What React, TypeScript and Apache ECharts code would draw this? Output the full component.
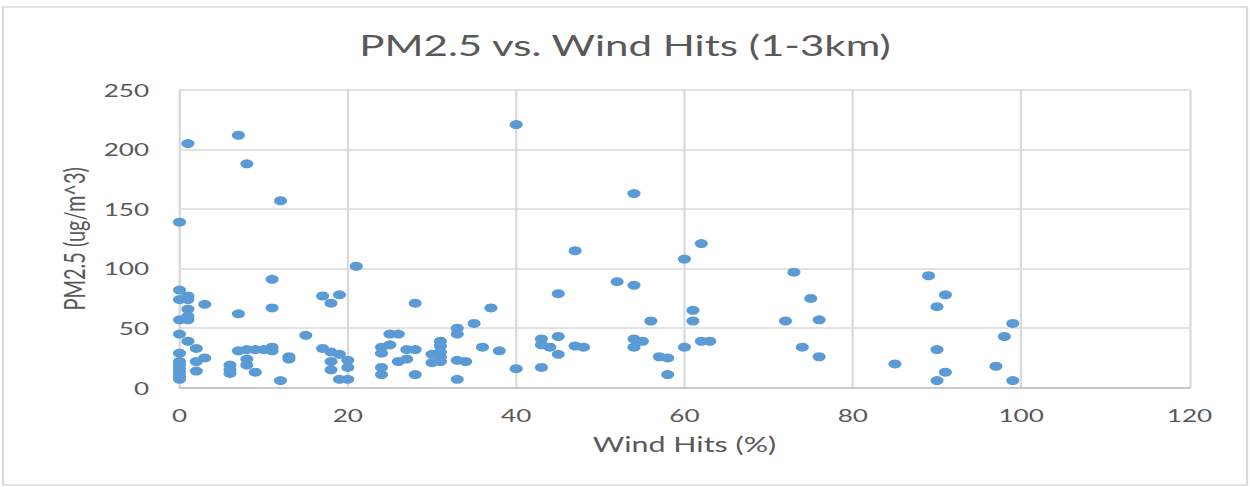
import React, { useEffect, useRef } from "react";
import * as echarts from "echarts";

const TITLE = "PM2.5 vs. Wind Hits (1-3km)";
const X_NAME = "Wind Hits (%)";
const Y_NAME = "PM2.5 (ug/m^3)";

// Wind hits (%) for each observation
const windHits = [
  1, 7, 8, 12, 0, 21, 11, 0, 0, 1, 1, 3, 1, 7, 11, 17, 19, 18, 0, 1,
  1, 0, 1, 2, 3, 2, 2, 0, 0, 0, 0, 0, 0, 0, 6, 6, 6, 7, 8, 9,
  10, 11, 11, 8, 8, 9, 12, 13, 13, 15, 17, 18, 19, 18, 18, 20, 20, 19, 20, 24,
  25, 24, 25, 26, 24, 24, 26, 27, 27, 28, 28, 28,
  40, 54, 47, 60, 62, 52, 54, 45, 37, 35, 33, 33, 56, 61, 61, 62, 63, 60, 54, 55,
  54, 57, 58, 58, 43, 43, 44, 45, 45, 47, 48, 43, 40, 36, 38, 33, 34, 33, 31, 31,
  31, 31, 30, 30, 31,
  73, 75, 72, 76, 74, 76, 85, 89, 91, 90, 90, 91, 90, 99, 98, 97, 99,
];

// PM2.5 (ug/m^3) for each observation
const pm25 = [
  205, 212, 188, 157, 139, 102, 91, 82, 74, 77, 74, 70, 66, 62, 67, 77, 78, 71, 57, 60,
  57, 45, 39, 33, 25, 22, 14, 29, 22, 19, 16, 13, 10, 7, 19, 15, 12, 31, 32, 32,
  32, 34, 31, 24, 19, 13, 6, 26, 24, 44, 33, 30, 28, 22, 15, 23, 17, 7, 7, 34,
  36, 29, 45, 45, 17, 11, 22, 24, 32, 32, 11, 71,
  221, 163, 115, 108, 121, 89, 86, 79, 67, 54, 50, 45, 56, 65, 56, 39, 39, 34, 41, 39,
  34, 26, 25, 11, 41, 36, 34, 43, 28, 35, 34, 17, 16, 34, 31, 23, 22, 7, 39, 35,
  30, 26, 28, 21, 22,
  97, 75, 56, 57, 34, 26, 20, 94, 78, 68, 32, 13, 6, 54, 43, 18, 6,
];

const xTicks = { min: 0, max: 120, interval: 20 };
const yTicks = { min: 0, max: 250, interval: 50 };

const FULL_W = 1250;
const H = 487;
const INNER_W = 862;
const SX = FULL_W / INNER_W;
const FONT = "Lato";
const TXT = "#595959";
const GRID = "#D9D9D9";

export default function App() {
  const ref = useRef<HTMLDivElement>(null);
  useEffect(() => {
    if (!ref.current) return;
    const chart = echarts.init(ref.current, undefined, { renderer: "svg" });
    const data = windHits.map((x, i) => [x, pm25[i]]);
    chart.setOption({
      animation: false,
      backgroundColor: "#ffffff",
      title: {
        text: TITLE,
        left: "center",
        top: 25,
        textStyle: { fontFamily: FONT, fontSize: 29, fontWeight: "normal", color: TXT },
      },
      graphic: [
        {
          type: "rect",
          shape: { x: 3 / SX, y: 7, width: 1244 / SX, height: 478 },
          style: { fill: "none", stroke: GRID, lineWidth: 1.5 },
          silent: true,
        },
      ],
      grid: { left: 179.5 / SX, right: INNER_W - 1189.5 / SX, top: 90, bottom: H - 387.7 },
      xAxis: {
        type: "value",
        min: xTicks.min,
        max: xTicks.max,
        interval: xTicks.interval,
        name: X_NAME,
        nameLocation: "middle",
        nameGap: 46,
        nameTextStyle: { fontFamily: FONT, fontSize: 21, color: TXT },
        axisLine: { show: true, lineStyle: { color: "#BFBFBF", width: 1.5 } },
        axisTick: { show: false },
        axisLabel: { fontFamily: FONT, fontSize: 18, color: TXT, margin: 18 },
        splitLine: { show: true, lineStyle: { color: GRID, width: 1.5 } },
      },
      yAxis: {
        type: "value",
        min: yTicks.min,
        max: yTicks.max,
        interval: yTicks.interval,
        name: Y_NAME,
        nameLocation: "middle",
        nameGap: 61,
        nameTextStyle: { fontFamily: FONT, fontSize: 20, color: TXT },
        axisLine: { show: true, lineStyle: { color: GRID, width: 1.5 } },
        axisTick: { show: false },
        axisLabel: { fontFamily: FONT, fontSize: 18, color: TXT, margin: 21 },
        splitLine: { show: true, lineStyle: { color: GRID, width: 1.5 } },
      },
      series: [
        {
          type: "scatter",
          data,
          symbol: "circle",
          symbolSize: 9,
          itemStyle: { color: "#5B9BD5", opacity: 1 },
        },
      ],
    });
    return () => chart.dispose();
  }, []);

  return (
    <div
      style={{
        position: "fixed",
        left: 0,
        top: 0,
        width: FULL_W,
        height: H,
        overflow: "hidden",
        background: "#fff",
      }}
    >
      <div
        ref={ref}
        style={{
          width: INNER_W,
          height: H,
          transform: `scaleX(${SX})`,
          transformOrigin: "0 0",
        }}
      />
    </div>
  );
}
